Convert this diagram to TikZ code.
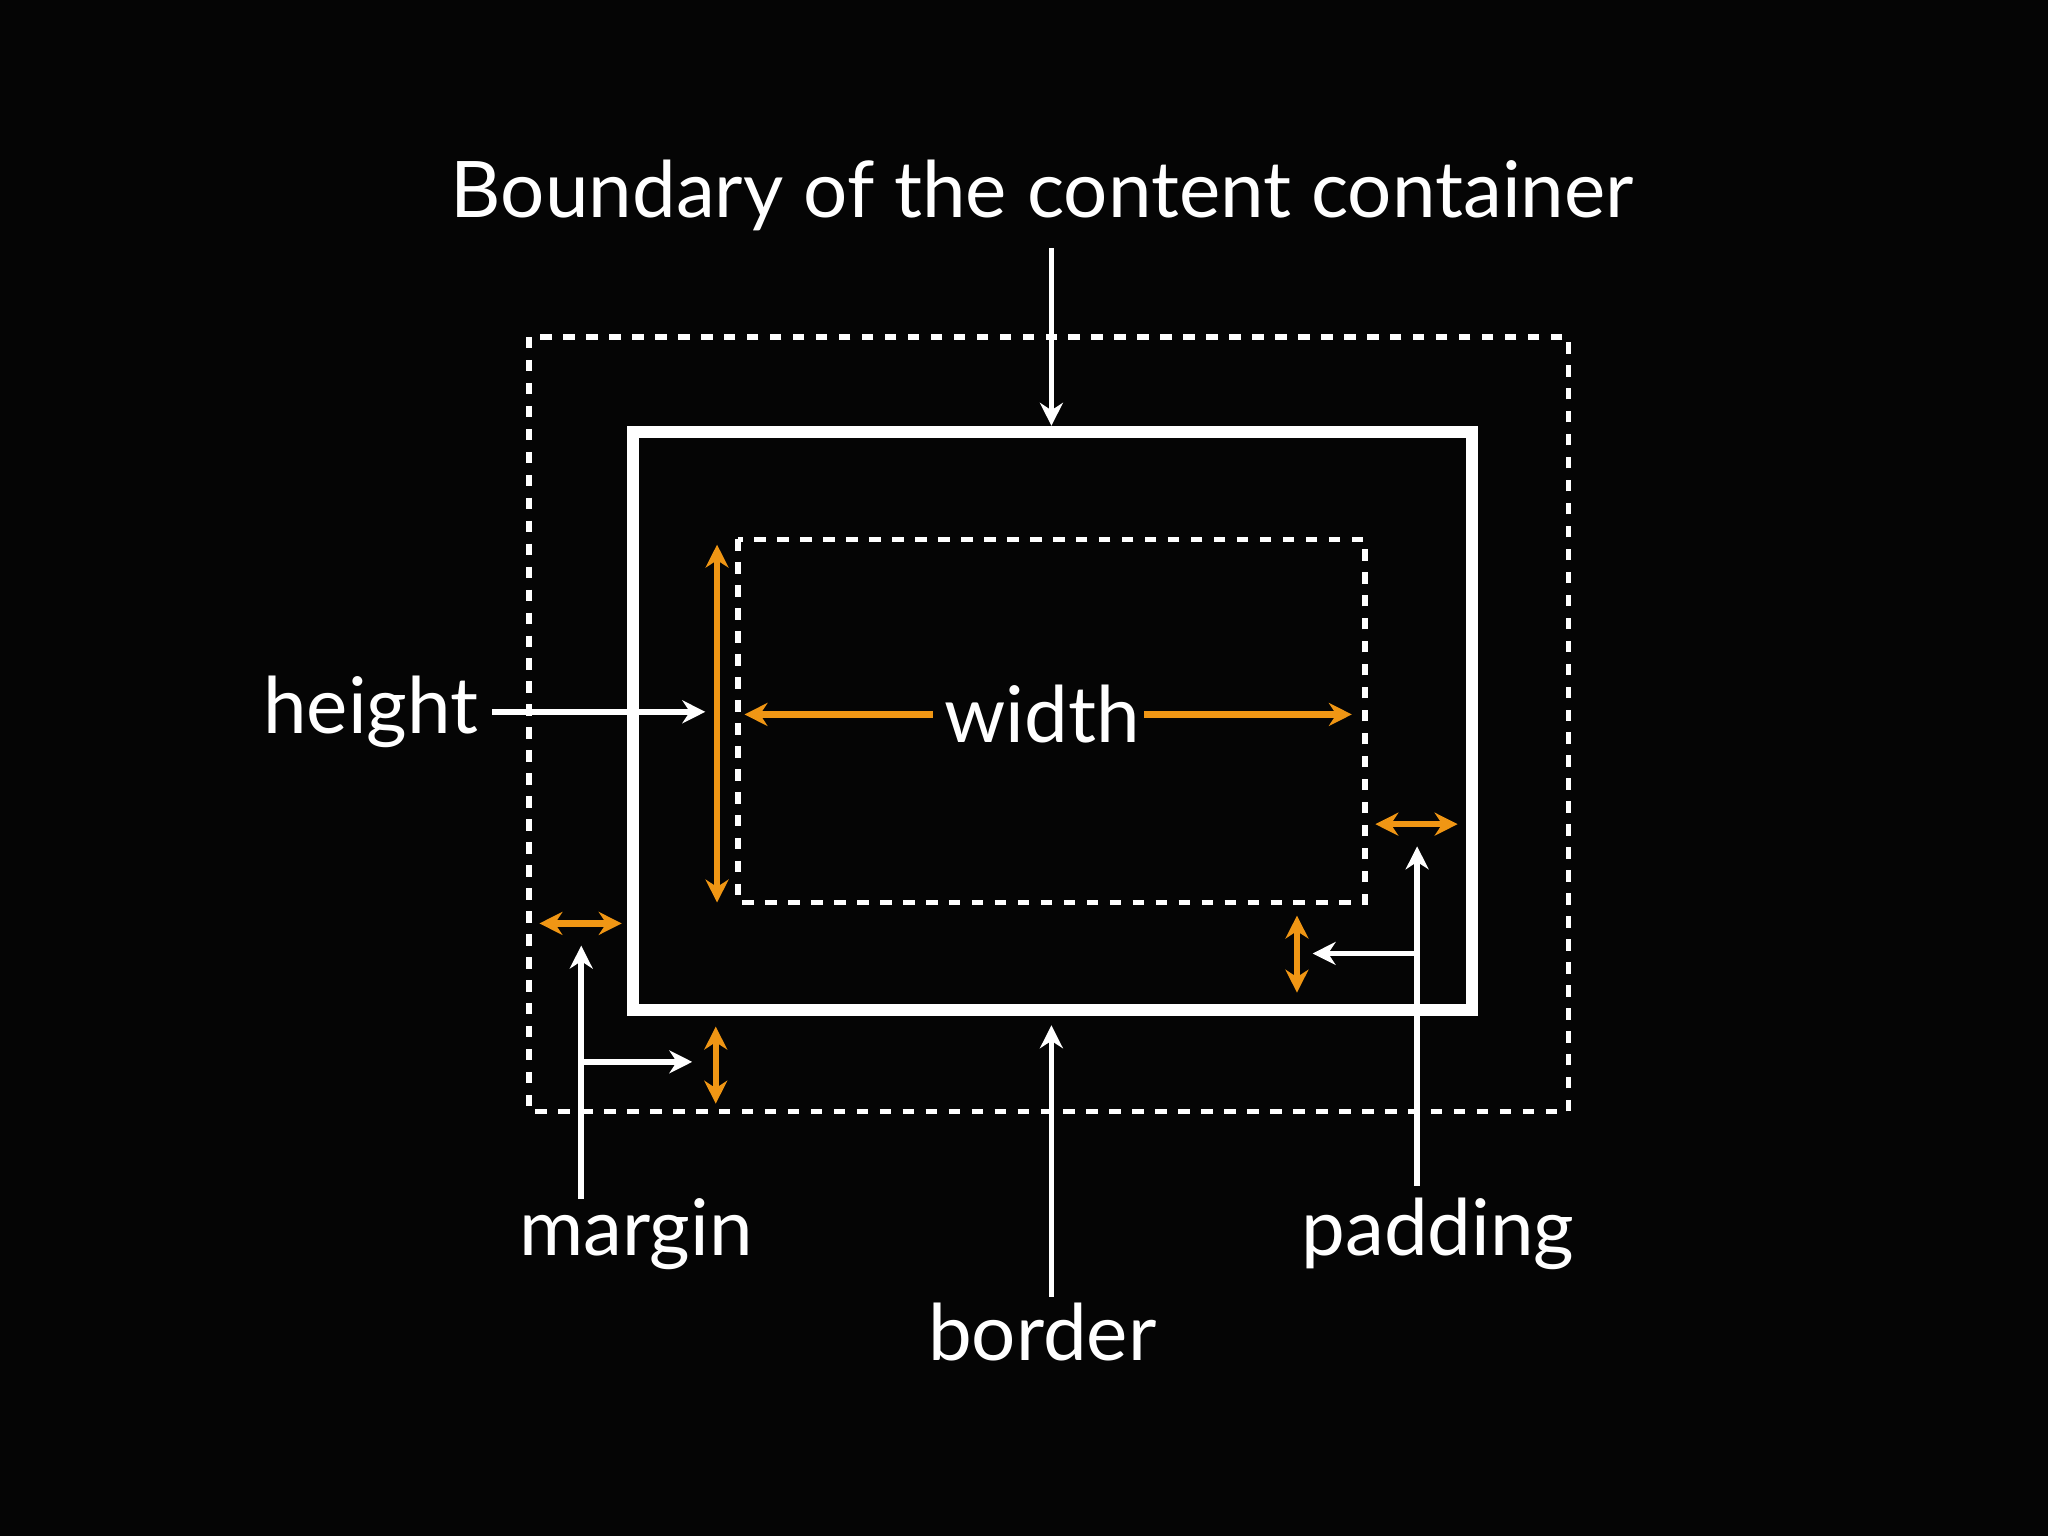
\documentclass[tikz,border=0pt]{standalone}
\usepackage{fontspec}
\setmainfont{Lato}
\usetikzlibrary{arrows.meta}
\definecolor{org}{RGB}{240,150,20}
\tikzset{
 wa/.style={draw=white,line width=1.2pt,-{Stealth[length=5pt,width=5pt]}},
 oa/.style={draw=org,line width=1.4pt,{Stealth[length=5pt,width=5pt]}-{Stealth[length=5pt,width=5pt]}},
 ow/.style={draw=org,line width=1.4pt,-{Stealth[length=5pt,width=5pt]}},
 dbox/.style={draw=white,line width=1.2pt,dash pattern=on 2.5pt off 2.5pt},
 lbl/.style={text=white,font=\fontsize{17}{20}\selectfont,inner sep=0pt}
}
\begin{document}
\begin{tikzpicture}[x=0.01cm,y=-0.01cm]
\fill[black!98!white] (0,0) rectangle (1568,1176);
\useasboundingbox (0,0) rectangle (1568,1176);
\draw[dbox] (405,258) rectangle (1201,851);
\draw[white,line width=2.6pt] (485,331) rectangle (1127,773);
\draw[dbox] (565,413) rectangle (1045,691);
\node[lbl] (title) at (798,150) {Boundary of the content container};
\coordinate (t0) at (805,190); \coordinate (t1) at (805,326);
\draw[wa] (t0) -- (t1);
\node[lbl,anchor=east] (height) at (367,545) {height};
\coordinate (h1) at (540,545);
\draw[wa] (height.east) ++(10,0) -- (h1);
\coordinate (v0) at (549,417); \coordinate (v1) at (549,691);
\draw[oa] (v0) -- (v1);
\node[lbl] (width) at (798,547) {width};
\coordinate (w0) at (570,547); \coordinate (w1) at (1035,547);
\draw[ow] (714,547) -- (w0);
\draw[ow] (876,547) -- (w1);
% padding
\coordinate (p0) at (1053,631); \coordinate (p1) at (1116,631);
\draw[oa] (p0) -- (p1);
\node[lbl] (padding) at (1101,945) {padding};
\coordinate (pa) at (1085,908); \coordinate (pb) at (1085,648);
\coordinate (pc) at (1085,730); \coordinate (pd) at (1005,730);
\draw[wa] (pa) -- (pb);
\draw[wa] (pc) -- (pd);
\coordinate (q0) at (993,701); \coordinate (q1) at (993,760);
\draw[oa] (q0) -- (q1);
% margin
\coordinate (m0) at (413,707); \coordinate (m1) at (476,707);
\draw[oa] (m0) -- (m1);
\node[lbl] (margin) at (487,945) {margin};
\coordinate (ma) at (445,918); \coordinate (mb) at (445,724);
\coordinate (mc) at (445,813); \coordinate (md) at (530,813);
\draw[wa] (ma) -- (mb);
\draw[wa] (mc) -- (md);
\coordinate (n0) at (548,786); \coordinate (n1) at (548,845);
\draw[oa] (n0) -- (n1);
% border
\node[lbl] (border) at (798,1020) {border};
\coordinate (ba) at (805,993); \coordinate (bb) at (805,785);
\draw[wa] (ba) -- (bb);
\end{tikzpicture}
\end{document}
